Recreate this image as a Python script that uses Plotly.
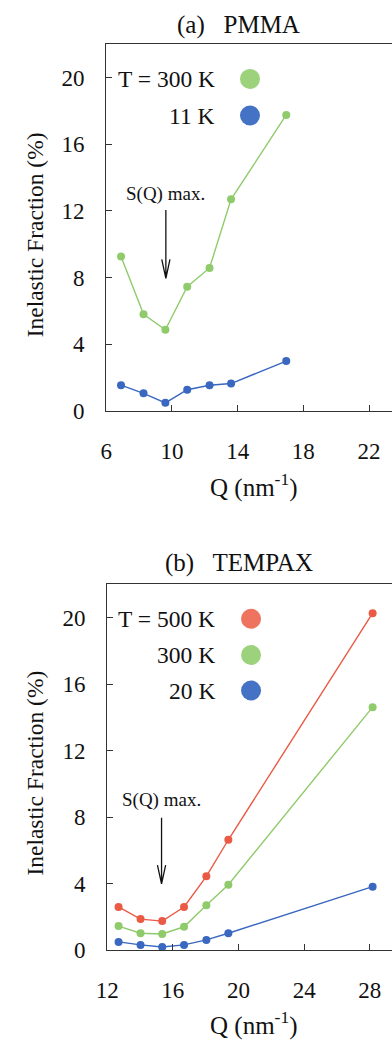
import plotly.graph_objects as go

# ---- data ----
q_pmma = [6.9, 8.27, 9.6, 10.93, 12.29, 13.6, 16.96]
pmma_300K = [9.27, 5.8, 4.87, 7.45, 8.58, 12.7, 17.77]
pmma_11K = [1.54, 1.05, 0.48, 1.27, 1.54, 1.64, 2.99]

q_tempax = [12.69, 14.03, 15.35, 16.68, 18.04, 19.38, 28.17]
tempax_500K = [2.61, 1.88, 1.76, 2.61, 4.45, 6.65, 20.27]
tempax_300K = [1.46, 1.03, 0.99, 1.42, 2.71, 3.95, 14.62]
tempax_20K = [0.51, 0.33, 0.2, 0.33, 0.63, 1.03, 3.83]

sq_max_pmma = 9.63
sq_max_tempax = 15.31

x_ticks_a = [6, 10, 14, 18, 22]
x_ticks_b = [12, 16, 20, 24, 28]
y_ticks = [0, 4, 8, 12, 16, 20]

RED = "#EA5A44"
GREEN = "#8FCB6B"
BLUE = "#3A67C0"
RED_L = "#EF7460"
GREEN_L = "#9DD27C"
BLUE_L = "#4472C4"

FONT = "Liberation Serif"
AX = "#333333"

fig = go.Figure()


def add_series(x, y, color, xa, ya):
    fig.add_trace(go.Scatter(
        x=x, y=y, mode="lines+markers", xaxis=xa, yaxis=ya,
        line=dict(color=color, width=1.4),
        marker=dict(color=color, size=8),
        showlegend=False, hoverinfo="x+y"))


add_series(q_pmma, pmma_300K, GREEN, "x", "y")
add_series(q_pmma, pmma_11K, BLUE, "x", "y")
add_series(q_tempax, tempax_500K, RED, "x2", "y2")
add_series(q_tempax, tempax_300K, GREEN, "x2", "y2")
add_series(q_tempax, tempax_20K, BLUE, "x2", "y2")

W, H = 392, 1051
xa_dom = [98 / W, 1.0]
xb_dom = [99 / W, 1.0]
ya_dom = [(H - 416) / H, (H - 45) / H]
yb_dom = [(H - 962.3) / H, (H - 591.7) / H]

TICK = 23
common_x = dict(showline=True, linecolor=AX, linewidth=1.3, mirror=True,
                ticks="inside", ticklen=6, tickwidth=1.3, tickcolor=AX,
                showgrid=False, zeroline=False,
                tickfont=dict(family=FONT, size=TICK, color="#111"),
                ticklabelstandoff=19)
common_y = dict(showline=True, linecolor=AX, linewidth=1.3, mirror=False,
                ticks="inside", ticklen=6, tickwidth=1.3, tickcolor=AX,
                showgrid=False, zeroline=False, range=[0, 22],
                tickvals=y_ticks,
                tickfont=dict(family=FONT, size=TICK, color="#111"),
                ticklabelstandoff=16)

fig.update_layout(
    width=W, height=H, margin=dict(l=0, r=0, t=0, b=0),
    paper_bgcolor="white", plot_bgcolor="white",
    xaxis=dict(domain=xa_dom, range=[6, 23.4], tickvals=x_ticks_a,
               anchor="y", **common_x),
    yaxis=dict(domain=ya_dom, anchor="x", **common_y),
    xaxis2=dict(domain=xb_dom, range=[12, 29.35], tickvals=x_ticks_b,
                anchor="y2", **common_x),
    yaxis2=dict(domain=yb_dom, anchor="x2", **common_y),
)

ann = []


def text(x, y, s, size, xref="paper", yref="paper", xanchor="center",
         textangle=0):
    ann.append(dict(x=x, y=y, xref=xref, yref=yref, text=s, showarrow=False,
                    xanchor=xanchor, yanchor="middle", textangle=textangle,
                    font=dict(family=FONT, size=size, color="#111")))


# titles
text(234 / W, (H - 25) / H, "(a)   PMMA", 25)
text(235 / W, (H - 570) / H, "(b)   TEMPAX", 25)
# axis titles
text(250 / W, (H - 492) / H, "Q (nm<sup>-1</sup>)", 25)
text(250 / W, (H - 1036) / H, "Q (nm<sup>-1</sup>)", 25)
text(25 / W, (H - 238) / H, "Inelastic Fraction (%)", 23.5, textangle=-90)
text(25 / W, (H - 783) / H, "Inelastic Fraction (%)", 23.5, textangle=-90)

# legends (text)
LEG = 23.5
text(0.388, 0.906, "T = 300 K", LEG, "x domain", "y domain", "right")
text(0.388, 0.806, "11 K", LEG, "x domain", "y domain", "right")
text(0.385, 0.906, "T = 500 K", LEG, "x2 domain", "y2 domain", "right")
text(0.385, 0.807, "300 K", LEG, "x2 domain", "y2 domain", "right")
text(0.385, 0.710, "20 K", LEG, "x2 domain", "y2 domain", "right")

# S(Q) max labels
text(0.207, 0.593, "S(Q) max.", 19, "x domain", "y domain")
text(0.191, 0.411, "S(Q) max.", 19, "x2 domain", "y2 domain")

fig.update_layout(annotations=ann)

shapes = []


def legend_dot(xd, yd, color, xref, yref):
    shapes.append(dict(type="circle", xref=xref, yref=yref,
                       xsizemode="pixel", ysizemode="pixel",
                       xanchor=xd, yanchor=yd, x0=-10, x1=10, y0=-10, y1=10,
                       fillcolor=color, line=dict(width=0)))


legend_dot(0.503, 0.906, GREEN_L, "x domain", "y domain")
legend_dot(0.503, 0.806, BLUE_L, "x domain", "y domain")
legend_dot(0.505, 0.906, RED_L, "x2 domain", "y2 domain")
legend_dot(0.505, 0.807, GREEN_L, "x2 domain", "y2 domain")
legend_dot(0.505, 0.710, BLUE_L, "x2 domain", "y2 domain")


def arrow(x, ytop, ytip, vh, dx, xref, yref):
    path = (f"M {x},{ytop} L {x},{ytip} "
            f"M {x - dx},{ytip + vh} L {x},{ytip} L {x + dx},{ytip + vh}")
    shapes.append(dict(type="path", xref=xref, yref=yref, path=path,
                       line=dict(color="#111", width=1.3)))


arrow(sq_max_pmma, 12.06, 7.96, 1.13, 0.25, "x", "y")
arrow(sq_max_tempax, 7.97, 4.0, 1.13, 0.25, "x2", "y2")

fig.update_layout(shapes=shapes)

fig.write_html("out.html")
